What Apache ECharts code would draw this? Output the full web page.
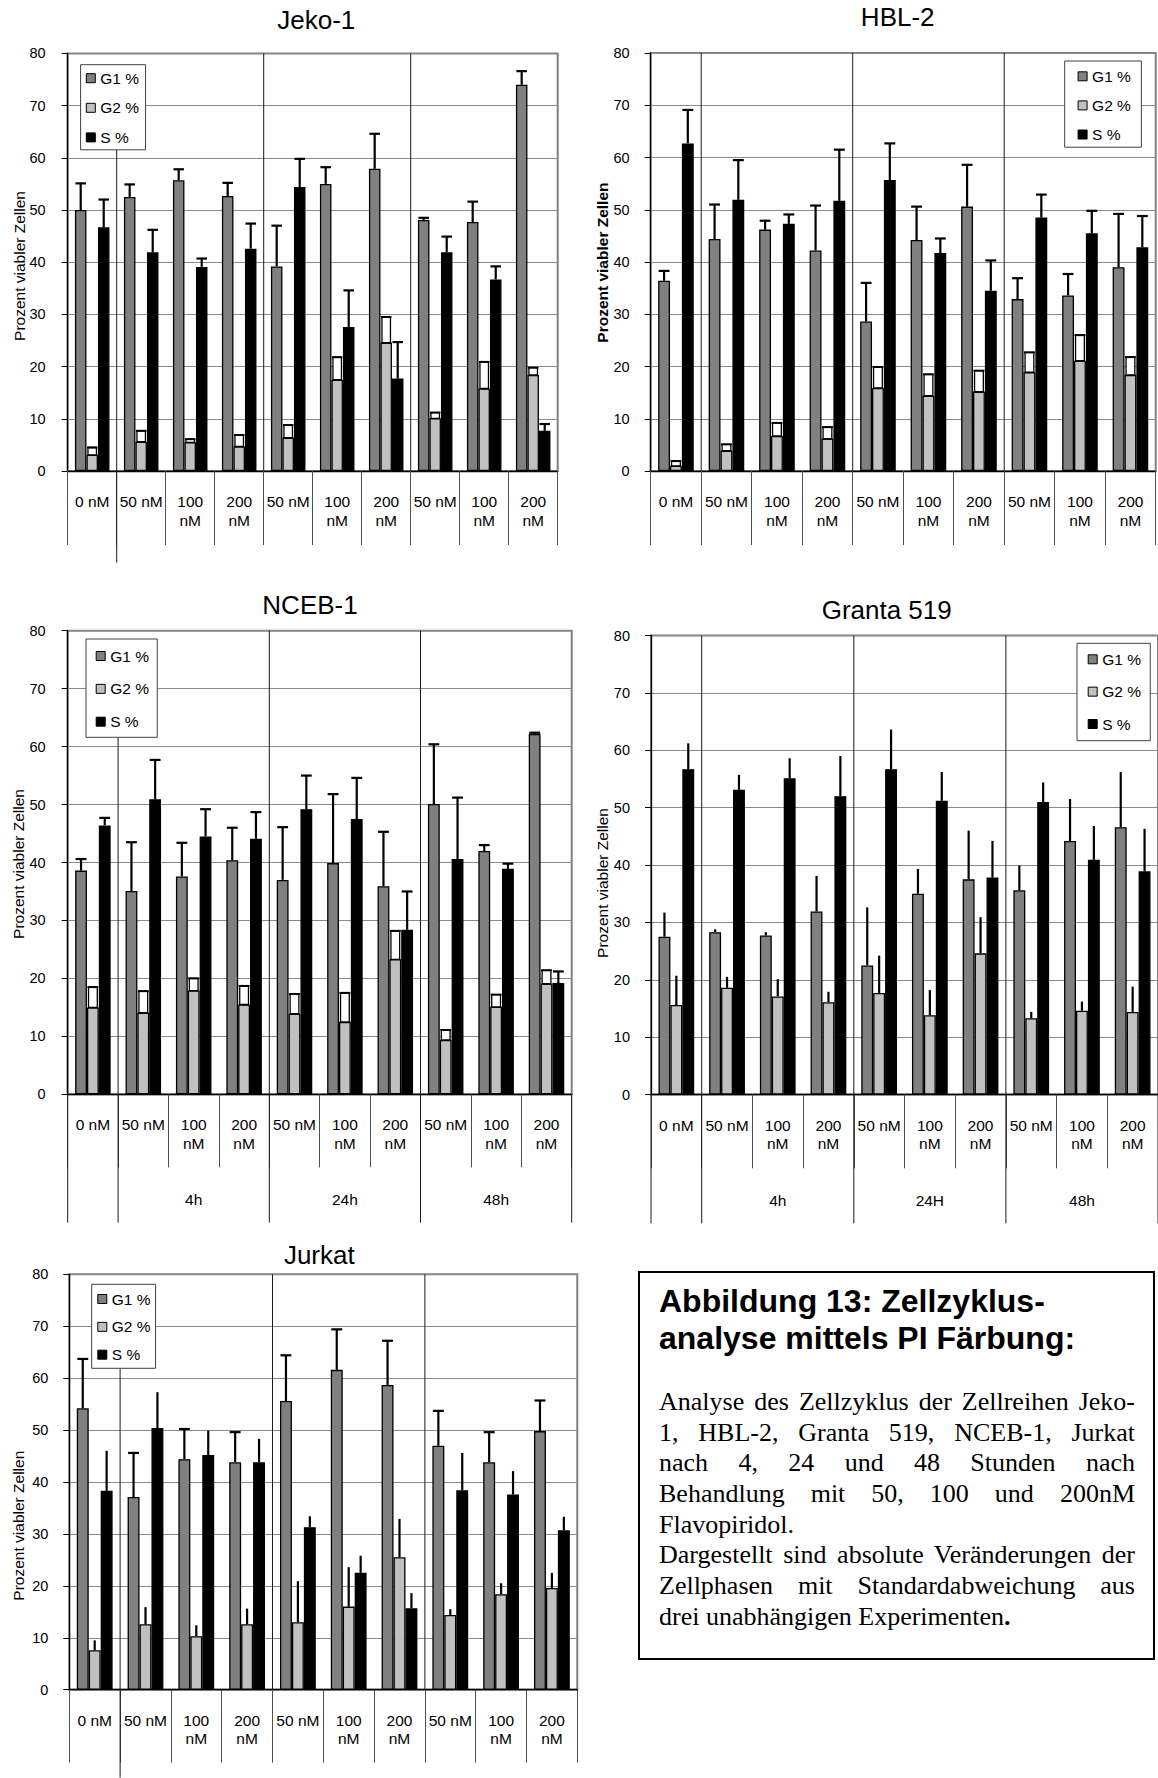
<!DOCTYPE html>
<html><head><meta charset="utf-8">
<script src="https://cdn.jsdelivr.net/npm/echarts@6/dist/echarts.min.js"></script>
<style>
html,body{margin:0;padding:0;background:#fff;}
#wrap{position:relative;width:1158px;height:1778px;overflow:hidden;background:#fff;}
#chart{position:absolute;left:0;top:0;width:1158px;height:1778px;}
#box{position:absolute;left:638px;top:1271px;width:513px;height:385px;border:2px solid #000;background:#fff;}
#head{position:absolute;left:19px;top:10px;font:bold 32px/36.6px "Liberation Sans",Arial,sans-serif;color:#000;white-space:nowrap;}
#body{position:absolute;left:19px;top:114px;width:476px;font:26px/30.66px "Liberation Serif","Times New Roman",serif;color:#000;}
#body .ln{white-space:nowrap;height:30.66px;}
</style></head><body>
<div id="wrap">
<div id="chart"></div>
<div id="box">
<div id="head">Abbildung 13: Zellzyklus-<br>analyse mittels PI Färbung:</div>
<div id="body">
<div class="ln j"><span>Analyse des Zellzyklus der Zellreihen Jeko-</span></div>
<div class="ln j"><span>1, HBL-2, Granta 519, NCEB-1, Jurkat</span></div>
<div class="ln j"><span>nach 4, 24 und 48 Stunden nach</span></div>
<div class="ln j"><span>Behandlung mit 50, 100 und 200nM</span></div>
<div class="ln"><span>Flavopiridol.</span></div>
<div class="ln j"><span>Dargestellt sind absolute Veränderungen der</span></div>
<div class="ln j"><span>Zellphasen mit Standardabweichung aus</span></div>
<div class="ln"><span>drei unabhängigen Experimenten<b>.</b></span></div>
</div>
</div>
</div>
<script>
// ---------- data ----------
const categories = ['0 nM','50 nM','100\nnM','200\nnM','50 nM','100\nnM','200\nnM','50 nM','100\nnM','200\nnM'];
const seriesNames = ['G1 %','G2 %','S %'];
const timeGroups = ['4h','24h','48h'];
const timeGroupsGranta = ['4h','24H','48h'];
const yMin = 0, yMax = 80, yStep = 10;

const jekoG1    = [50.0, 52.5, 55.7, 52.7, 39.2, 55.0, 57.9, 48.1, 47.7, 74.0];
const jekoG1Err = [5.1, 2.4, 2.1, 2.5, 7.8, 3.2, 6.7, 0.4, 3.9, 2.6];
const jekoG2    = [3.1, 5.6, 5.5, 4.7, 6.4, 17.5, 24.6, 10.1, 15.8, 18.4];
const jekoG2Err = [1.4, 2.1, 0.6, 2.2, 2.4, 4.3, 4.9, 1.1, 5.1, 1.4];
const jekoS     = [46.7, 41.9, 39.1, 42.6, 54.4, 27.6, 17.7, 41.9, 36.7, 7.7];
const jekoSErr  = [5.3, 4.3, 1.6, 4.8, 5.4, 7.0, 7.0, 3.0, 2.5, 1.3];

const hblG1    = [36.4, 44.4, 46.2, 42.2, 28.6, 44.2, 50.6, 32.9, 33.6, 39.0];
const hblG1Err = [1.9, 6.6, 1.7, 8.6, 7.4, 6.4, 8.0, 4.0, 4.1, 10.2];
const hblG2    = [1.0, 3.9, 6.7, 6.2, 15.9, 14.4, 15.2, 18.9, 21.1, 18.4];
const hblG2Err = [0.9, 1.2, 2.5, 2.2, 4.0, 4.1, 4.0, 3.8, 4.9, 3.4];
const hblS     = [62.7, 51.9, 47.3, 51.7, 55.7, 41.7, 34.5, 48.5, 45.5, 42.8];
const hblSErr  = [6.4, 7.6, 1.8, 9.8, 7.0, 2.8, 5.8, 4.4, 4.3, 6.0];

const ncebG1    = [38.6, 35.1, 37.6, 40.4, 37.0, 39.9, 35.9, 50.1, 42.0, 62.2];
const ncebG1Err = [2.0, 8.4, 5.8, 5.6, 9.1, 11.9, 9.4, 10.3, 1.0, 0.2];
const ncebG2    = [15.0, 14.1, 17.9, 15.5, 13.9, 12.5, 23.3, 9.4, 15.1, 19.1];
const ncebG2Err = [3.5, 3.7, 2.1, 3.2, 3.4, 5.0, 4.9, 1.7, 2.1, 2.3];
const ncebS     = [46.4, 50.9, 44.5, 44.1, 49.2, 47.5, 28.4, 40.6, 38.9, 19.2];
const ncebSErr  = [1.3, 6.8, 4.7, 4.6, 5.8, 7.1, 6.6, 10.6, 0.9, 2.0];

const grantaG1    = [27.5, 28.3, 27.7, 31.9, 22.5, 35.0, 37.5, 35.6, 44.2, 46.6];
const grantaG1Err = [4.2, 0.5, 0.6, 6.2, 10.1, 4.3, 8.5, 4.3, 7.3, 9.6];
const grantaG2    = [15.6, 18.6, 17.1, 16.1, 17.7, 13.8, 24.6, 13.3, 14.6, 14.4];
const grantaG2Err = [5.1, 1.9, 3.0, 1.8, 6.5, 4.4, 6.3, 1.1, 1.6, 4.4];
const grantaS     = [56.7, 53.1, 55.1, 52.0, 56.7, 51.2, 37.8, 51.0, 40.9, 38.9];
const grantaSErr  = [4.5, 2.6, 3.5, 7.0, 6.9, 5.0, 6.4, 3.4, 5.9, 7.4];

const jurkatG1    = [54.2, 37.1, 44.4, 43.8, 55.6, 61.6, 58.7, 47.0, 43.8, 49.8];
const jurkatG1Err = [9.5, 8.5, 5.8, 5.8, 8.8, 7.8, 8.5, 6.7, 5.8, 5.9];
const jurkatG2    = [7.6, 12.6, 10.3, 12.6, 13.0, 16.0, 25.5, 14.4, 18.4, 19.6];
const jurkatG2Err = [1.9, 3.3, 2.1, 3.0, 7.9, 7.6, 7.4, 1.1, 2.1, 2.9];
const jurkatS     = [38.3, 50.4, 45.2, 43.8, 31.3, 22.5, 15.7, 38.4, 37.6, 30.7];
const jurkatSErr  = [7.7, 6.9, 4.7, 4.5, 2.1, 3.3, 2.9, 7.2, 4.5, 2.6];

// ---------- layout & styling ----------
const FONT = '"Liberation Sans", Arial, sans-serif';
const BARW = 0.235;
const colors = ['#808080', '#c0c0c0', '#000000'];

const panels = [
  {title:'Jeko-1', vals:[jekoG1, jekoG2, jekoS], errs:[jekoG1Err, jekoG2Err, jekoSErr], errStyle:['cap','box','cap'], groups:null},
  {title:'HBL-2', vals:[hblG1, hblG2, hblS], errs:[hblG1Err, hblG2Err, hblSErr], errStyle:['cap','box','cap'], groups:null},
  {title:'NCEB-1', vals:[ncebG1, ncebG2, ncebS], errs:[ncebG1Err, ncebG2Err, ncebSErr], errStyle:['cap','box','cap'], groups:timeGroups},
  {title:'Granta 519', vals:[grantaG1, grantaG2, grantaS], errs:[grantaG1Err, grantaG2Err, grantaSErr], errStyle:['line','line','line'], groups:timeGroupsGranta},
  {title:'Jurkat', vals:[jurkatG1, jurkatG2, jurkatS], errs:[jurkatG1Err, jurkatG2Err, jurkatSErr], errStyle:['cap','line','line'], groups:null}
];

const layout = [
  {left:67.7, top:53.4, width:490, height:417.6, tick:74, ylm:22, tx:316.3, ty:20, nx:19.2, ny:266, bold:false,
   lg:{left:80.6, top:64.7, pad:[5.5,6.5,4.4,5.2], gap:13.6},
   lines:[{k:1, from:149.8, to:562.7}, {k:4, from:'top', to:'axis'}, {k:7, from:'top', to:'axis'}]},
  {left:650.7, top:53, width:505, height:418, tick:74, ylm:21, tx:897.7, ty:17.4, nx:602.9, ny:262.6, bold:true,
   lg:{left:1064.7, top:61, pad:[7.3,10.5,4.7,12.9], gap:13.1},
   lines:[{k:1, from:'top', to:'axis'}, {k:4, from:'top', to:'axis'}, {k:7, from:'top', to:'axis'}]},
  {left:67.7, top:630.7, width:504, height:463.6, tick:73, ylm:22, tx:310, ty:605, nx:18.5, ny:864, bold:false,
   lg:{left:86, top:639, pad:[9,8.3,7.6,9.7], gap:16.85}, gy:1199,
   lines:[{k:1, from:737.3, to:1222.7}, {k:4, from:'top', to:1222.7}, {k:7, from:'top', to:1222.7}, {k:0, from:'axis', to:1222.7}, {k:10, from:'axis', to:1222.7}]},
  {left:651, top:635.5, width:507, height:459, tick:73.8, ylm:21, tx:886.7, ty:610, nx:602.9, ny:883, bold:false,
   lg:{left:1077, top:643.3, pad:[8,9.3,8.7,10.7], gap:16.35}, gy:1200,
   lines:[{k:1, from:'top', to:1223.3}, {k:4, from:'top', to:1223.3}, {k:7, from:'top', to:1223.3}, {k:0, from:'axis', to:1223.3}, {k:10, from:'axis', to:1223.3}]},
  {left:69.3, top:1274.3, width:508, height:415.4, tick:73, ylm:21, tx:319.3, ty:1255, nx:18.3, ny:1525.7, bold:false,
   lg:{left:91.7, top:1284.3, pad:[6.7,5,5.6,5.6], gap:11.85},
   lines:[{k:1, from:1368.3, to:1777.7}, {k:4, from:'top', to:'axis'}, {k:7, from:'top', to:'axis'}]}
];

function makeErr(k, style) {
  return function (params, api) {
    const i = api.value(0), v = api.value(1), e = api.value(2);
    const base = api.coord([i, v]);
    const top = api.coord([i, v + e]);
    const band = api.size([1, 0])[0];
    const bw = band * BARW;
    const cx = base[0] + (k - 1) * bw;
    const children = [];
    if (style === 'box') {
      const w = bw * 0.74;
      children.push({type:'rect', shape:{x:cx - w/2, y:top[1], width:w, height:Math.max(base[1]-top[1],0.5)},
        style:{fill:'#fff', stroke:'#000', lineWidth:1.3}});
      children.push({type:'line', shape:{x1:cx - bw/2 + 0.5, y1:top[1], x2:cx + bw/2 - 0.5, y2:top[1]}, style:{stroke:'#000', lineWidth:2}});
    } else {
      children.push({type:'line', shape:{x1:cx, y1:base[1], x2:cx, y2:top[1]}, style:{stroke:'#000', lineWidth:2.2}});
      if (style === 'cap') {
        children.push({type:'line', shape:{x1:cx - bw/2 + 0.5, y1:top[1], x2:cx + bw/2 - 0.5, y2:top[1]}, style:{stroke:'#000', lineWidth:2.2}});
      }
    }
    return {type:'group', children:children};
  };
}

const grid = [], xAxis = [], yAxis = [], legend = [], series = [];
panels.forEach(function (p, g) {
  const l = layout[g];
  grid.push({left:l.left, top:l.top, width:l.width, height:l.height, show:true, borderColor:'#808080', borderWidth:2, backgroundColor:'transparent'});
  xAxis.push({type:'category', gridIndex:g, data:categories, boundaryGap:true,
    axisLine:{lineStyle:{color:'#000', width:1.3}},
    axisTick:{show:true, interval:0, length:l.tick, lineStyle:{color:'#505050', width:1}},
    axisLabel:{interval:0, margin:21.3, fontSize:15.5, lineHeight:18.5, color:'#000', fontFamily:FONT},
    splitLine:{show:false}});
  yAxis.push({type:'value', gridIndex:g, min:yMin, max:yMax, interval:yStep,
    axisLine:{show:true, lineStyle:{color:'#000', width:1.3}},
    axisTick:{show:true, length:6, lineStyle:{color:'#000', width:1}},
    axisLabel:{margin:l.ylm, fontSize:14.5, color:'#000', fontFamily:FONT},
    splitLine:{show:true, lineStyle:{color:'#8a8a8a', width:1.2}}});
  legend.push({show:true, orient:'vertical', left:l.lg.left, top:l.lg.top, padding:l.lg.pad, itemGap:l.lg.gap,
    itemWidth:9, itemHeight:9, icon:'rect', borderColor:'#404040', borderWidth:1, backgroundColor:'#fff',
    itemStyle:{borderColor:'#000', borderWidth:1},
    textStyle:{fontSize:15.5, lineHeight:16, color:'#000', fontFamily:FONT},
    data:seriesNames, selectedMode:false, z:10});
  for (let k = 0; k < 3; k++) {
    series.push({type:'bar', name:seriesNames[k], xAxisIndex:g, yAxisIndex:g, data:p.vals[k],
      barWidth:(BARW*100)+'%', barGap:'0%',
      itemStyle:{color:colors[k], borderColor:'#000', borderWidth:1.3},
      emphasis:{disabled:true}, animation:false, z:2});
    series.push({type:'custom', name:'err'+g+'_'+k, xAxisIndex:g, yAxisIndex:g,
      data:p.vals[k].map(function (v, i) { return [i, v, p.errs[k][i]]; }),
      encode:{x:0, y:1}, renderItem:makeErr(k, p.errStyle[k]), z:3, silent:true, animation:false});
  }
});

const chart = echarts.init(document.getElementById('chart'), null, {renderer:'svg', width:1158, height:1778});
chart.setOption({animation:false, backgroundColor:'#fff', grid:grid, xAxis:xAxis, yAxis:yAxis, legend:legend, series:series, tooltip:{show:false}});

// decorations: titles, axis names, group labels, group separator lines
const graphic = [];
panels.forEach(function (p, g) {
  const l = layout[g];
  graphic.push({type:'text', x:l.tx, y:l.ty, z:5, style:{text:p.title, font:'26px "Liberation Sans", Arial, sans-serif', fill:'#000', align:'center', verticalAlign:'middle', textAlign:'center', textVerticalAlign:'middle'}});
  graphic.push({type:'text', x:l.nx, y:l.ny, rotation:Math.PI/2, z:5, style:{text:'Prozent viabler Zellen', font:(l.bold?'bold ':'')+'15.5px "Liberation Sans", Arial, sans-serif', fill:'#000', align:'center', verticalAlign:'middle', textAlign:'center', textVerticalAlign:'middle'}});
  const yTop = chart.convertToPixel({yAxisIndex:g}, yMax);
  const yAxisPx = chart.convertToPixel({yAxisIndex:g}, yMin);
  const c0 = chart.convertToPixel({xAxisIndex:g}, 0);
  const c1 = chart.convertToPixel({xAxisIndex:g}, 1);
  const bw = c1 - c0;
  const bx = function (k) { return c0 - bw/2 + k*bw; };
  l.lines.forEach(function (ln) {
    const y1 = ln.from === 'top' ? yTop : (ln.from === 'axis' ? yAxisPx : ln.from);
    const y2 = ln.to === 'axis' ? yAxisPx : ln.to;
    graphic.push({type:'line', z:1, silent:true, shape:{x1:bx(ln.k), y1:y1, x2:bx(ln.k), y2:y2}, style:{stroke:'#1a1a1a', lineWidth:1}});
  });
  if (p.groups) {
    p.groups.forEach(function (name, j) {
      const cx = chart.convertToPixel({xAxisIndex:g}, 2 + 3*j);
      graphic.push({type:'text', x:cx, y:l.gy, z:5, style:{text:name, font:'15.5px "Liberation Sans", Arial, sans-serif', fill:'#000', align:'center', verticalAlign:'middle', textAlign:'center', textVerticalAlign:'middle'}});
    });
  }
});
chart.setOption({graphic:graphic});

// justify caption lines
const TARGET = 476;
document.querySelectorAll('#body .j span').forEach(function (sp) {
  const w = sp.getBoundingClientRect().width;
  const n = sp.textContent.split(' ').length - 1;
  if (n > 0) sp.style.wordSpacing = ((TARGET - w) / n) + 'px';
});
</script>
</body></html>
